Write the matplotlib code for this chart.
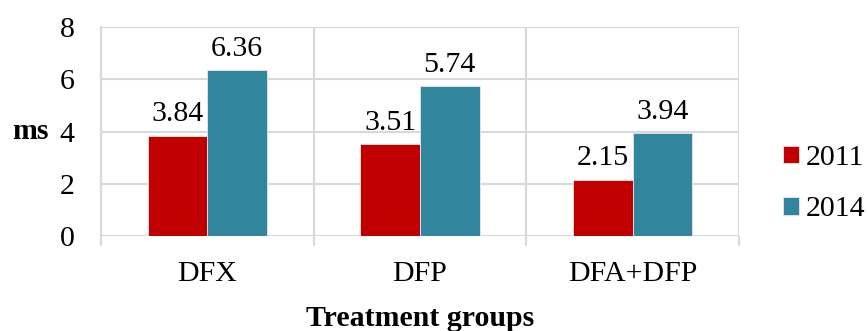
import matplotlib
matplotlib.use("Agg")
import matplotlib.pyplot as plt
import numpy as np

categories = ["DFX", "DFP", "DFA+DFP"]
years = ["2011", "2014"]
values_2011 = [3.84, 3.51, 2.15]
values_2014 = [6.36, 5.74, 3.94]
yticks = [0, 2, 4, 6, 8]

plt.rcParams["font.family"] = ["Liberation Serif", "DejaVu Serif"]
FS = 21.5

fig = plt.figure(figsize=(8.68, 3.31), dpi=100)
ax = fig.add_axes([101 / 868, 1 - 236 / 331, 638 / 868, 209 / 331])

x = np.arange(len(categories)) + 0.5
w = 0.28
colors = ["#C00000", "#31859C"]
series = [values_2011, values_2014]
for i, (vals, col, lab) in enumerate(zip(series, colors, years)):
    pos = x + (i - 0.5) * w
    ax.bar(pos, vals, width=w, color=col, label=lab, zorder=3,
           edgecolor="#e8e8e8", linewidth=0.6)
    for p, v in zip(pos, vals):
        ax.annotate(f"{v:.2f}", (p, v), xytext=(0, 6), textcoords="offset points",
                    ha="center", va="bottom", fontsize=FS)

ax.set_xlim(0, 3)
ax.set_ylim(0, 8)
ax.set_yticks(yticks)
ax.set_yticklabels([str(t) for t in yticks], fontsize=FS)
ax.tick_params(axis="y", length=0, pad=19)

ax.set_xticks(x)
ax.set_xticklabels(categories, fontsize=FS)
ax.set_xticks([0, 1, 2, 3], minor=True)
ax.tick_params(axis="x", which="major", length=0, pad=18)
ax.tick_params(axis="x", which="minor", length=7.5, width=1.5, color="#d9d9d9")

ax.grid(axis="y", color="#d9d9d9", linewidth=1.5, zorder=0)
ax.grid(axis="x", which="minor", color="#d9d9d9", linewidth=1.5, zorder=0)
for s in ["top", "right", "bottom"]:
    ax.spines[s].set_visible(False)
ax.spines["left"].set_color("#d9d9d9")
ax.spines["left"].set_linewidth(1.5)
ax.set_axisbelow(True)

ax.set_ylabel("ms", rotation=0, fontsize=FS, fontweight="bold", ha="center", va="center")
ax.yaxis.set_label_coords(-0.111, 0.5)
ax.set_xlabel("Treatment groups", fontsize=FS, fontweight="bold")
ax.xaxis.set_label_coords(0.5, -0.33)

ax.legend(loc="center left", bbox_to_anchor=(1.069, 0.25), frameon=False,
          bbox_transform=ax.transAxes, borderaxespad=0, borderpad=0,
          fontsize=FS, handlelength=0.55, handleheight=0.55, handletextpad=0.2,
          labelspacing=0.85)

fig.savefig("out.png", dpi=100)
